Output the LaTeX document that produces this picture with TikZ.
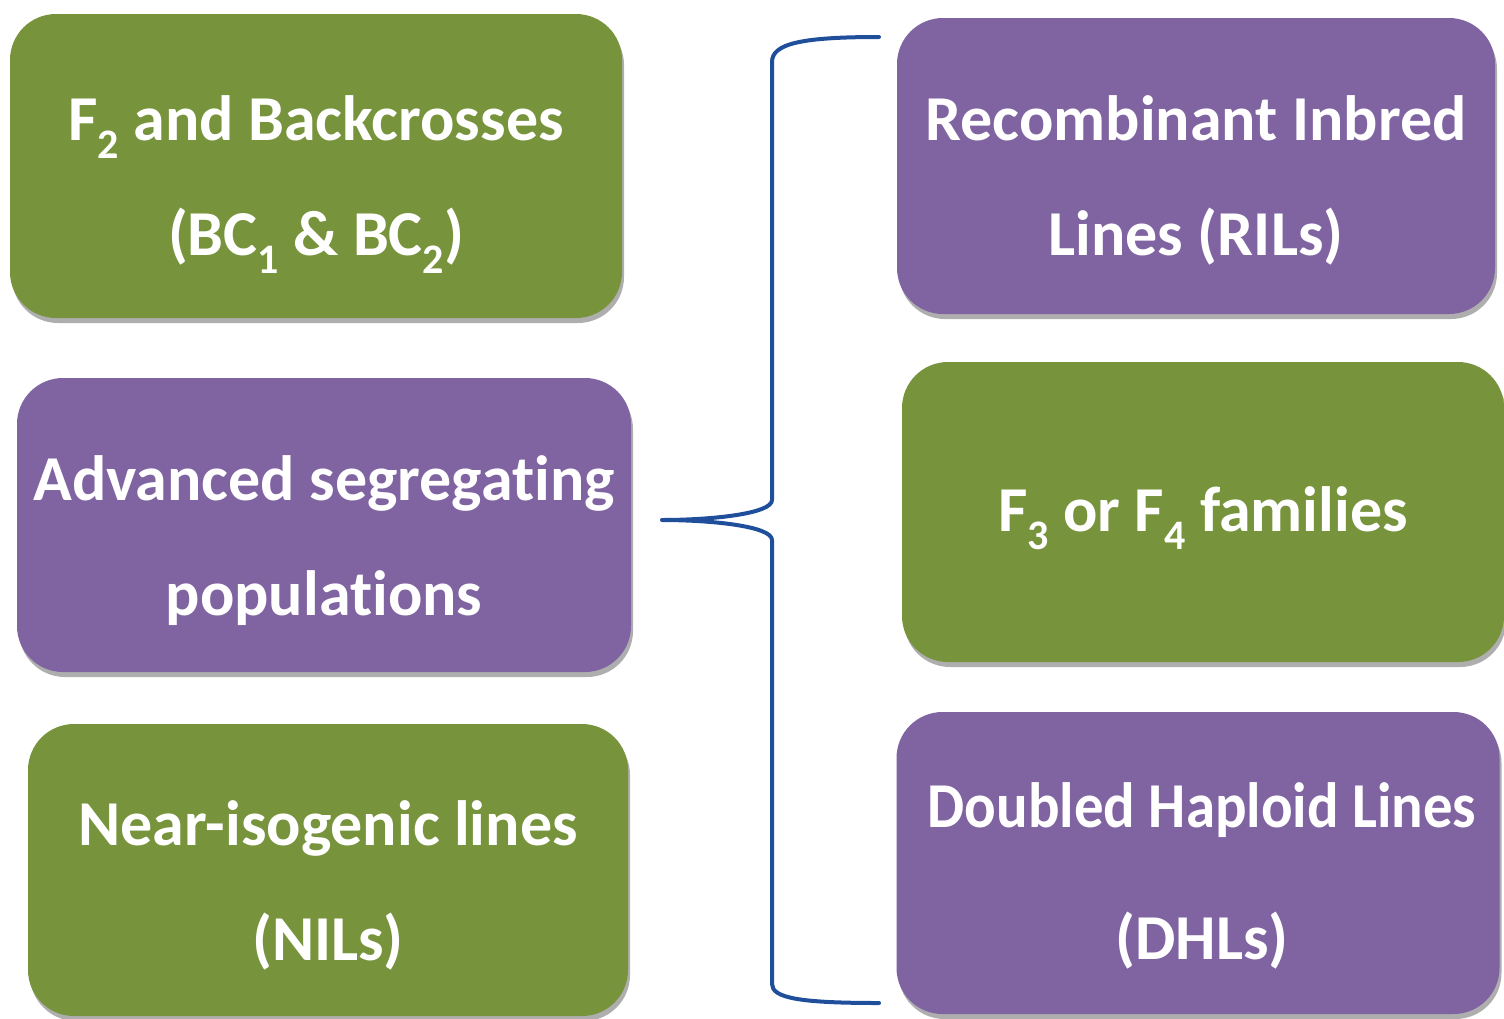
\documentclass[tikz,border=0pt]{standalone}
\usepackage{fontspec}
\setmainfont{Carlito}[Ligatures=NoCommon]
\usetikzlibrary{shadows}
\definecolor{boxgreen}{HTML}{77933C}
\definecolor{boxpurple}{HTML}{8064A2}
\definecolor{braceblue}{HTML}{1F4E9A}
\newcommand\lowsub[1]{\raisebox{-0.28em}{\fontsize{42}{42}\selectfont #1}}
\begin{document}
\begin{tikzpicture}[x=1pt,y=-1pt,
  box/.style={rounded corners=46pt, inner sep=0pt,
    drop shadow={shadow xshift=2pt, shadow yshift=-5pt, opacity=0.45, fill=black!70}},
  greenbox/.style={box, fill=boxgreen},
  purplebox/.style={box, fill=boxpurple},
  label/.style={text=white, font=\bfseries\fontsize{64}{115}\selectfont, align=center, inner sep=0pt},
  bracket/.style={draw=braceblue, line width=4pt, line cap=round, line join=round}]
\useasboundingbox (0,0) rectangle (1504,1018);
% left column
\node[greenbox, minimum width=612pt, minimum height=304pt] (b1) at (316,166) {};
\node[purplebox, minimum width=614pt, minimum height=294pt] (b2) at (324,525) {};
\node[greenbox, minimum width=600pt, minimum height=292pt] (b3) at (328,870) {};
% right column
\node[purplebox, minimum width=598pt, minimum height=296pt] (b4) at (1196,166) {};
\node[greenbox, minimum width=602pt, minimum height=300pt] (b5) at (1203,512) {};
\node[purplebox, minimum width=603pt, minimum height=302pt] (b6) at (1198,863) {};
% labels
\node[label] (t1) at ([yshift=-19pt]b1.center) {F\lowsub{2} and Backcrosses\\(BC\lowsub{1} \& BC\lowsub{2})};
\node[label] (t2) at ([yshift=-16pt]b2.center) {Advanced segregating\\populations};
\node[label] (t3) at ([yshift=-15pt]b3.center) {Near-isogenic lines\\(NILs)};
\node[label] (t4) at ([yshift=-14pt]b4.center) {Recombinant Inbred\\Lines (RILs)};
\node[label] (t5) at ([yshift=-6pt]b5.center) {F\lowsub{3} or F\lowsub{4} families};
\node[label] (t6) at ([xshift=4pt,yshift=-13pt]b6.center) {\scalebox{0.92}[1]{Doubled Haploid Lines}\\[17pt](DHLs)};
% brace
\coordinate (tip) at (662,520);
\coordinate (topend) at (879,37);
\coordinate (botend) at (879,1003);
\draw[bracket] (topend) .. controls (800,37) and (772,44) .. (772,62)
  -- (772,500) .. controls (772,514) and (710,520) .. (tip)
  .. controls (710,520) and (772,526) .. (772,540)
  -- (772,984) .. controls (772,998) and (800,1003) .. (botend);
\end{tikzpicture}
\end{document}
